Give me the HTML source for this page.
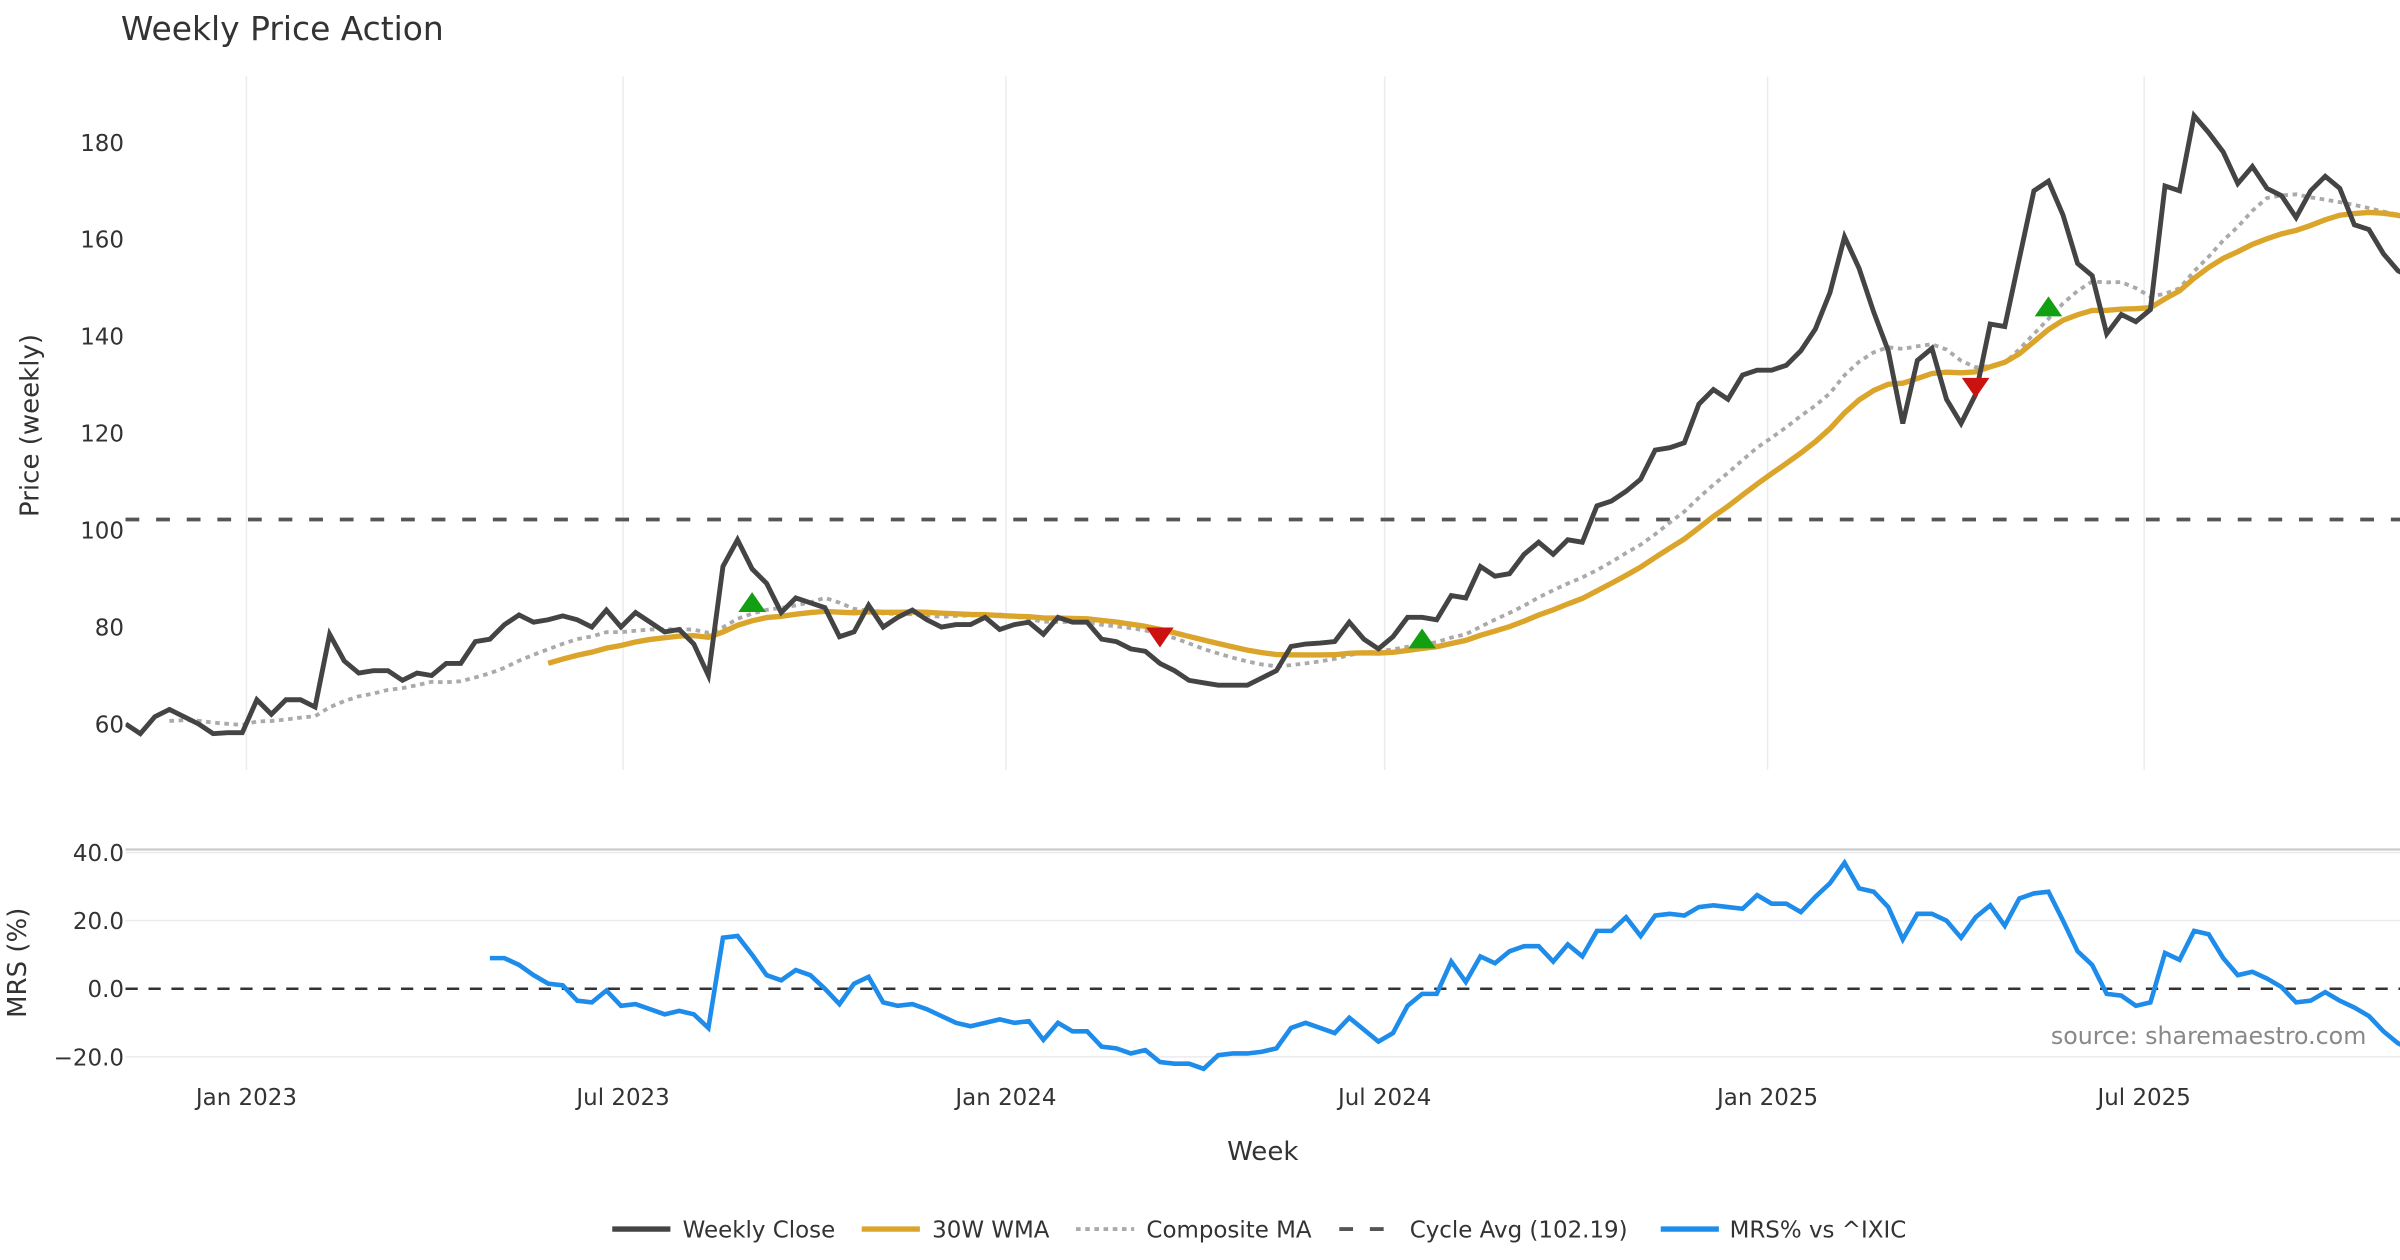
<!DOCTYPE html>
<html><head><meta charset="utf-8"><style>
html,body{margin:0;padding:0;background:#fff;}
svg{display:block;}
text{font-family:"DejaVu Sans","Liberation Sans",sans-serif;}
</style></head><body>
<svg id="chart" width="2400" height="1260" viewBox="0 0 1568 823.2" xmlns="http://www.w3.org/2000/svg">
<defs><clipPath id="pclip"><rect x="82" y="50" width="1486" height="453"/></clipPath>
<clipPath id="mclip"><rect x="82" y="553" width="1486" height="152"/></clipPath></defs>
<text x="79" y="26" font-size="21.5" fill="#333">Weekly Price Action</text>
<g id="pricePanel"></g>
<g id="mrsPanel"></g>
<g id="xAxis"></g>
<text transform="translate(25,278) rotate(-90)" text-anchor="middle" font-size="17" fill="#333">Price (weekly)</text>
<text transform="translate(17,629) rotate(-90)" text-anchor="middle" font-size="17" fill="#333">MRS (%)</text>
<text x="825" y="758" text-anchor="middle" font-size="17" fill="#333">Week</text>
<text x="1546" y="682" text-anchor="end" font-size="15.5" fill="#888">source: sharemaestro.com</text>
<g>
 <g><line x1="400" y1="803" x2="438" y2="803" stroke="#444" stroke-width="3.5"/><text x="446" y="808.5" font-size="15" fill="#333">Weekly Close</text></g>
 <g><line x1="563" y1="803" x2="601" y2="803" stroke="#DAA52A" stroke-width="3.5"/><text x="609" y="808.5" font-size="15" fill="#333">30W WMA</text></g>
 <g><line x1="703" y1="803" x2="741" y2="803" stroke="#aaa" stroke-width="2.5" stroke-dasharray="3,3"/><text x="749" y="808.5" font-size="15" fill="#333">Composite MA</text></g>
 <g><line x1="875" y1="803" x2="913" y2="803" stroke="#555" stroke-width="2.5" stroke-dasharray="9,11"/><text x="921" y="808.5" font-size="15" fill="#333">Cycle Avg (102.19)</text></g>
 <g><line x1="1085" y1="803" x2="1123" y2="803" stroke="#1E8CEB" stroke-width="3.5"/><text x="1130" y="808.5" font-size="15" fill="#333">MRS% vs ^IXIC</text></g>
</g>
</svg>
<script>
const closes = [60,58,61.5,63,61.5,60,58,58.2,58.2,65,62,65,65,63.5,78.5,73,70.5,71,71,69,70.5,70,72.5,72.5,77,77.5,80.5,82.5,81,81.5,82.3,81.5,80,83.5,80,83,81,79,79.5,76.5,70,92.5,98,92,89,83,86,85,84,78,79,84.5,80,82,83.5,81.5,80,80.5,80.5,82,79.5,80.5,81,78.5,82,81,81,77.5,77,75.5,75,72.5,71,69,68.5,68,68,68,69.5,71,76,76.5,76.7,77,81,77.5,75.5,78,82,82,81.5,86.5,86,92.5,90.5,91,95,97.5,95,98,97.5,105,106,108,110.5,116.5,117,118,126,129,127,132,133,133,134,137,141.5,149,160.5,154,145,137,122,135,137.5,127,122,128,142.5,142,156,170,172,165,155,152.5,140.5,144.5,143,145.5,171,170,185.5,182,178,171.5,175,170.5,169,164.5,170,173,170.5,163,162,157,153.5,152];
const mrsStart = 25;
const mrs = [9,9,7,4,1.5,1,-3.5,-4,-0.5,-5,-4.5,-6,-7.5,-6.5,-7.5,-11.5,15,15.5,10,4,2.5,5.5,4,0,-4.5,1.5,3.5,-4,-5,-4.5,-6,-8,-10,-11,-10,-9,-10,-9.5,-15,-10,-12.5,-12.5,-17,-17.5,-19,-18,-21.5,-22,-22,-23.5,-19.5,-19,-19,-18.5,-17.5,-11.5,-10,-11.5,-13,-8.5,-12,-15.5,-13,-5,-1.5,-1.5,8,2,9.5,7.5,11,12.5,12.5,8,13,9.5,17,17,21,15.5,21.5,22,21.5,24,24.5,24,23.5,27.5,25,25,22.5,27,31,37,29.5,28.5,24,14.5,22,22,20,15,21,24.5,18.5,26.5,28,28.5,20,11,7,-1.5,-2,-5,-4,10.5,8.5,17,16,9,4,5,3,0.5,-4,-3.5,-1,-3.5,-5.5,-8,-12.5,-16,-18];
const cycleAvg = 102.19;
const buyIdx = [43,89,132];
const buyVal = [85,77.5,146];
const sellIdx = [71,127];
const sellVal = [78,129.5];
const priceTicks = [60,80,100,120,140,160,180];
const mrsTicks = [-20,0,20,40];
const mrsTickLabels = ["\u221220.0","0.0","20.0","40.0"];
const xTickDates = ["2023-01-01","2023-07-01","2024-01-01","2024-07-01","2025-01-01","2025-07-01"];
const xTickLabels = ["Jan 2023","Jul 2023","Jan 2024","Jul 2024","Jan 2025","Jul 2025"];
const startDate = "2022-11-04";

const NS="http://www.w3.org/2000/svg";
const DAY=86400000, jan23=Date.UTC(2023,0,1), pxDay=1.3595;
function xDate(ms){return 161+(ms-jan23)/DAY*pxDay;}
const t0=Date.parse(startDate+"T00:00:00Z");
function xi(i){return xDate(t0+i*7*DAY);}
function yP(v){return 473-(v-60)*380/120;}
function yM(v){return 646-v*44.5/20;}
function mk(tag,attrs,parent){const e=document.createElementNS(NS,tag);for(const k in attrs)e.setAttribute(k,attrs[k]);parent.appendChild(e);return e;}
const pp=document.getElementById('pricePanel'), mp=document.getElementById('mrsPanel'), xa=document.getElementById('xAxis');

xTickDates.forEach((d,k)=>{
  const x=xDate(Date.parse(d+"T00:00:00Z"));
  const g1=mk('line',{x1:x,x2:x,y1:50,y2:503,stroke:'#ececf0','stroke-width':1},pp);
  
  
  const t=mk('text',{x:x,y:722,'text-anchor':'middle','font-size':15,fill:'#333'},xa);
  t.textContent=xTickLabels[k];
  
  
});
priceTicks.forEach(v=>{
  const t=mk('text',{x:81,y:yP(v)+5.5,'text-anchor':'end','font-size':15,fill:'#333'},pp);
  t.textContent=v;
  
  
});
const ca=mk('line',{x1:82,x2:1568,y1:yP(cycleAvg),y2:yP(cycleAvg),stroke:'#555','stroke-width':2.5,'stroke-dasharray':'9,11'},pp);



function pathFrom(vals,offset,yf){let d='';vals.forEach((v,j)=>{if(v==null)return;d+=(d?'L':'M')+xi(j+offset).toFixed(2)+','+yf(v).toFixed(2);});return d;}
const comp=closes.map((c,i)=>{if(i<3)return null;const a=[8,20].map(n=>{const s=closes.slice(Math.max(0,i-n+1),i+1);return s.reduce((p,q)=>p+q,0)/s.length;});return (a[0]+a[1])/2;});
const wma=closes.map((c,i)=>{if(i<29)return null;let s=0,w=0;for(let k=0;k<30;k++){s+=closes[i-k]*(30-k);w+=30-k;}return s/w;});
const cg=mk('g',{'clip-path':'url(#pclip)'},pp);
const pc=mk('path',{d:pathFrom(comp,0,yP),fill:'none',stroke:'#aaa','stroke-width':2.5,'stroke-dasharray':'3,3'},cg);


const pw=mk('path',{d:pathFrom(wma,0,yP),fill:'none',stroke:'#DAA52A','stroke-width':3.5},cg);


const pcl=mk('path',{d:pathFrom(closes,0,yP),fill:'none',stroke:'#444','stroke-width':3.2,'stroke-linejoin':'miter'},cg);


buyIdx.forEach((i,k)=>{const x=xi(i),y=yP(buyVal[k]);
  const m=mk('polygon',{points:`${x-9},${y+6} ${x+9},${y+6} ${x},${y-7}`,fill:'#12A012'},cg);
  
  });
sellIdx.forEach((i,k)=>{const x=xi(i),y=yP(sellVal[k]);
  const m=mk('polygon',{points:`${x-9},${y-6} ${x+9},${y-6} ${x},${y+7}`,fill:'#CC1111'},cg);
  
  });

const bl=mk('line',{x1:82,x2:1568,y1:555,y2:555,stroke:'#ccc','stroke-width':1.5},mp);


mrsTicks.forEach((v,k)=>{
  if(v!==0){const g=mk('line',{x1:82,x2:1568,y1:yM(v),y2:yM(v),stroke:'#ececf0','stroke-width':1},mp);
  
  }
  const t=mk('text',{x:81,y:yM(v)+5.5,'text-anchor':'end','font-size':15,fill:'#333'},mp);
  t.textContent=mrsTickLabels[k];
  
  
});
const zl=mk('line',{x1:82,x2:1568,y1:yM(0),y2:yM(0),stroke:'#333','stroke-width':1.6,'stroke-dasharray':'8,7'},mp);


const mg=mk('g',{'clip-path':'url(#mclip)'},mp);
const ml=mk('path',{d:pathFrom(mrs,mrsStart,yM),fill:'none',stroke:'#1E8CEB','stroke-width':3},mg);


</script>
</body></html>
